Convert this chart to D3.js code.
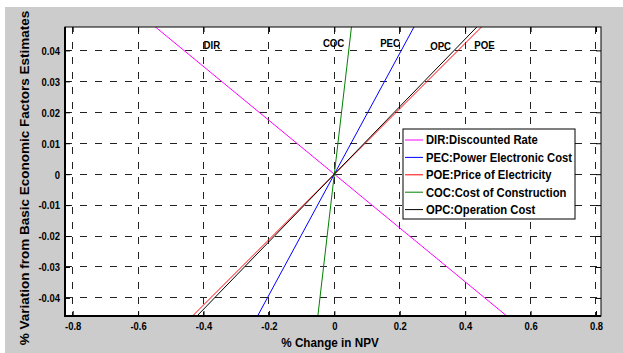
<!DOCTYPE html>
<html><head><meta charset="utf-8">
<script src="https://cdn.jsdelivr.net/npm/d3@7"></script>
<style>
body{margin:0;background:#fff;}
text{font-family:"Liberation Sans",Arial,sans-serif;font-weight:bold;}
</style></head>
<body><svg id="c" width="623" height="353"></svg>
<script>
// ---- data ----
const factorVariation = [-0.05, 0, 0.05];          // y values (% variation in factor)
const seriesNames = ["DIR", "PEC", "POE", "COC", "OPC"];
const seriesLegend = ["DIR:Discounted Rate", "PEC:Power Electronic Cost", "POE:Price of Electricity", "COC:Cost of Construction", "OPC:Operation Cost"];
const seriesColors = ["#ff00ff", "#0000ff", "#ff0000", "#008000", "#000000"];
const npvDIR = [0.575, 0, -0.575];
const npvPEC = [-0.256, 0, 0.256];
const npvPOE = [-0.473, 0, 0.473];
const npvCOC = [-0.055, 0, 0.055];
const npvOPC = [-0.458, 0, 0.458];
const labelX = [-0.40, 0.14, 0.428, -0.035, 0.293];
const labelY = [0.0405, 0.0410, 0.0405, 0.0412, 0.0400];
const xTicks = [-0.8, -0.6, -0.4, -0.2, 0, 0.2, 0.4, 0.6, 0.8];
const yTicks = [-0.04, -0.03, -0.02, -0.01, 0, 0.01, 0.02, 0.03, 0.04];

const seriesValues = [npvDIR, npvPEC, npvPOE, npvCOC, npvOPC];

const svg = d3.select("#c");
svg.append("rect").attr("x",5).attr("y",7).attr("width",618).attr("height",346).attr("fill","#cccccc");

const L=65, R=601, T=27, B=316;
const x = d3.scaleLinear().domain([-0.8235, 0.8153]).range([L, R]);
const y = d3.scaleLinear().domain([-0.04584, 0.04756]).range([B, T]);

svg.append("rect").attr("x",L).attr("y",T).attr("width",R-L).attr("height",B-T).attr("fill","#fff");

const fmt = d => (Math.abs(d) < 1e-9 ? "0" : String(+d.toFixed(2)));
const SX = 0.86;
// condensed text helper
function ctext(parent, px, py, s, size, anchor){
  return parent.append("text").attr("transform",`translate(${px},${py}) scale(${s},1)`)
    .attr("font-size",size).attr("fill","#000").attr("text-anchor",anchor||"start");
}

// grid
const g = svg.append("g");
g.selectAll(".gx").data(xTicks).join("line")
  .attr("x1",d=>x(d)).attr("x2",d=>x(d)).attr("y1",T).attr("y2",B)
  .attr("stroke","#222").attr("stroke-width",1).attr("stroke-dasharray","7,8").attr("shape-rendering","crispEdges");
g.selectAll(".gy").data(yTicks).join("line")
  .attr("y1",d=>y(d)).attr("y2",d=>y(d)).attr("x1",L).attr("x2",R)
  .attr("stroke","#222").attr("stroke-width",1).attr("stroke-dasharray","7,8").attr("shape-rendering","crispEdges");

// axes with inner ticks
const axB = svg.append("g").attr("transform",`translate(0,${B})`).call(d3.axisBottom(x).tickValues(xTicks).tickFormat(fmt).tickSizeInner(-5).tickSizeOuter(0).tickPadding(6));
const axT = svg.append("g").attr("transform",`translate(0,${T})`).call(d3.axisTop(x).tickValues(xTicks).tickFormat("").tickSizeInner(-5).tickSizeOuter(0));
const axL = svg.append("g").attr("transform",`translate(${L},0)`).call(d3.axisLeft(y).tickValues(yTicks).tickFormat(fmt).tickSizeInner(-5).tickSizeOuter(0).tickPadding(5));
const axR = svg.append("g").attr("transform",`translate(${R},0)`).call(d3.axisRight(y).tickValues(yTicks).tickFormat("").tickSizeInner(-5).tickSizeOuter(0));
[axB,axT,axL,axR].forEach(a=>{a.select(".domain").remove(); a.selectAll("line").attr("stroke","#000"); a.selectAll("text").attr("font-size",11).attr("fill","#000").attr("font-family",null);});
axL.selectAll("text").attr("dy","0.35em").attr("x",-5/SX).attr("transform",`scale(${SX},1)`);
axB.selectAll("text").attr("transform",`scale(${SX},1)`);

// clip & lines
svg.append("clipPath").attr("id","clip").append("rect").attr("x",L).attr("y",T).attr("width",R-L).attr("height",B-T);
const line = d3.line().x(d=>x(d[0])).y(d=>y(d[1]));
const lg = svg.append("g").attr("clip-path","url(#clip)");
seriesValues.forEach((vals,i)=>{
  lg.append("path").datum(vals.map((v,j)=>[v,factorVariation[j]]))
    .attr("d",line).attr("fill","none").attr("stroke",seriesColors[i]).attr("stroke-width",1);
});

// frame
svg.append("rect").attr("x",L).attr("y",T).attr("width",R-L).attr("height",B-T).attr("fill","none").attr("stroke","#000").attr("stroke-width",1);
svg.append("line").attr("x1",L).attr("x2",L).attr("y1",T).attr("y2",B+1).attr("stroke","#000").attr("stroke-width",2);
svg.append("line").attr("x1",L).attr("x2",R).attr("y1",B).attr("y2",B).attr("stroke","#000").attr("stroke-width",2);

// in-plot labels
seriesNames.forEach((n,i)=>{
  ctext(svg, x(labelX[i]), y(labelY[i]), 0.84, 11.5).text(n);
});

// legend
const lgX=403, lgY=129, lgW=172, lgH=90;
svg.append("rect").attr("x",lgX).attr("y",lgY).attr("width",lgW).attr("height",lgH).attr("fill","#fff").attr("stroke","#000").attr("stroke-width",1);
seriesLegend.forEach((t,i)=>{
  const yy = lgY + 11 + i*17.4;
  svg.append("line").attr("x1",lgX+2).attr("x2",lgX+20).attr("y1",yy).attr("y2",yy).attr("stroke",seriesColors[i]).attr("stroke-width",1);
  ctext(svg, lgX+23, yy, 0.9, 12.5).attr("dy","0.35em").text(t);
});

// axis titles
ctext(svg, 330, 347, 0.9, 13, "middle").text("% Change in NPV");
svg.append("text").attr("transform","translate(29,178) rotate(-90)").attr("text-anchor","middle").attr("font-size",13.5).attr("fill","#000").text("% Variation from Basic Economic Factors Estimates");
</script></body></html>
